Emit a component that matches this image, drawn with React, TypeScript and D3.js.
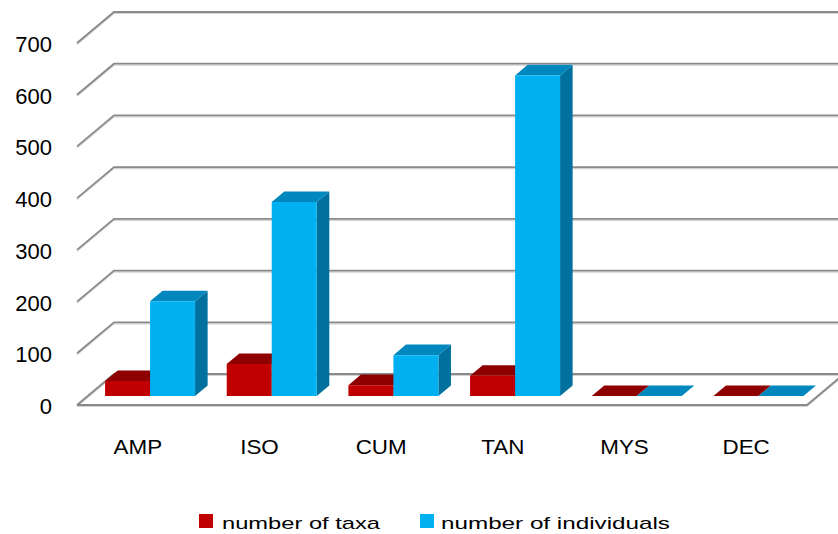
import React from "react";
import * as d3 from "d3";

// Categories and series values
const categories = ["AMP", "ISO", "CUM", "TAN", "MYS", "DEC"];
const taxa = [29, 62, 21, 39, 0, 0];
const individuals = [183, 375, 79, 620, 0, 0];
const yTicks = [0, 100, 200, 300, 400, 500, 600, 700];
const seriesNames = ["number of taxa", "number of individuals"];

const W = 838;
const H = 534;

// Oblique 3D frame: front plane of the floor and the depth vector to the back wall
const FRONT_LEFT = 77;
const FRONT_RIGHT = 807;
const FLOOR_Y = 405;
const DEPTH = { dx: 37, dy: -31 };
// Bars occupy this slice of the depth
const BAR_T0 = 0.29;
const BAR_T1 = 0.63;

const COLORS = {
  taxa: { front: "#C00000", top: "#8E0000", side: "#7A0000" },
  individuals: { front: "#00B0F0", top: "#0087BE", side: "#00719F" },
};

const FONT = "'Liberation Sans', Arial, sans-serif";

export default function App() {
  const x = d3.scaleBand<string>().domain(categories).range([FRONT_LEFT, FRONT_RIGHT]);
  const h = d3.scaleLinear().domain([0, 700]).range([0, 362]);
  const inner = d3.scaleBand<string>().domain(["taxa", "individuals"]).range([-45, 45]);

  // project a point given its front-plane x, depth fraction t and value v
  const P = (xf: number, t: number, v: number): [number, number] => [
    xf + DEPTH.dx * t,
    FLOOR_Y + DEPTH.dy * t - h(v),
  ];
  const poly = (pts: [number, number][]) => pts.map((p) => p.join(",")).join(" ");

  const gridColor = "#8A8A8A";
  const shadowColor = "#D2D2D2";

  const lines: React.ReactNode[] = [];
  yTicks.forEach((v) => {
    const a = P(FRONT_LEFT, 0, v);
    const b = P(FRONT_LEFT, 1, v);
    const c = P(FRONT_RIGHT, 1, v);
    lines.push(
      <g key={"g" + v}>
        <polyline points={poly([[a[0], a[1] + 1.5], [b[0], b[1] + 1.5], [c[0], c[1] + 1.5]])} fill="none" stroke={shadowColor} strokeWidth={1.2} />
        <polyline points={poly([a, b, c])} fill="none" stroke={gridColor} strokeWidth={1.8} />
      </g>
    );
  });
  // floor outline: front edge and right edge
  const f0 = P(FRONT_LEFT, 0, 0);
  const f1 = P(FRONT_RIGHT, 0, 0);
  const f2 = P(FRONT_RIGHT, 1, 0);
  lines.push(
    <g key="floor">
      <polyline points={poly([[f0[0], f0[1] + 1.5], [f1[0], f1[1] + 1.5], [f2[0], f2[1] + 1.5]])} fill="none" stroke={shadowColor} strokeWidth={1.2} />
      <polyline points={poly([f0, f1, f2])} fill="none" stroke={gridColor} strokeWidth={1.8} />
    </g>
  );

  const bars: React.ReactNode[] = [];
  categories.forEach((cat, i) => {
    const center = (x(cat) as number) + x.bandwidth() / 2 + 1.5;
    const series: [string, number][] = [
      ["taxa", taxa[i]],
      ["individuals", individuals[i]],
    ];
    series.forEach(([key, v]) => {
      const col = COLORS[key as "taxa" | "individuals"];
      const x0 = center + (inner(key) as number);
      const x1 = x0 + inner.bandwidth();
      const side = [P(x1, BAR_T0, 0), P(x1, BAR_T1, 0), P(x1, BAR_T1, v), P(x1, BAR_T0, v)];
      const top = [P(x0, BAR_T0, v), P(x1, BAR_T0, v), P(x1, BAR_T1, v), P(x0, BAR_T1, v)];
      const front = [P(x0, BAR_T0, 0), P(x1, BAR_T0, 0), P(x1, BAR_T0, v), P(x0, BAR_T0, v)];
      bars.push(
        <g key={cat + key}>
          {v > 0 && <polygon points={poly(side)} fill={col.side} />}
          <polygon points={poly(top)} fill={col.top} />
          {v > 0 && <polygon points={poly(front)} fill={col.front} />}
        </g>
      );
    });
  });

  return (
    <svg width={W} height={H} style={{ position: "absolute", left: 0, top: 0, background: "#fff" }}>
      <rect width={W} height={H} fill="#fff" />
      {lines}
      {bars}
      {yTicks.map((v) => (
        <text
          key={"y" + v}
          x={52}
          y={P(FRONT_LEFT, 0, v)[1] + 1.5}
          textAnchor="end"
          dominantBaseline="central"
          fontFamily={FONT}
          fontSize={22}
          fill="#000"
        >
          {v}
        </text>
      ))}
      {categories.map((cat) => (
        <text
          key={"x" + cat}
          transform={`translate(${(x(cat) as number) + x.bandwidth() / 2},454) scale(1.12,1)`}
          textAnchor="middle"
          fontFamily={FONT}
          fontSize={20}
          fill="#000"
        >
          {cat}
        </text>
      ))}
      <g>
        <rect x={199} y={514} width={14} height={14} fill={COLORS.taxa.front} />
        <text x={222} y={529} fontFamily={FONT} fontSize={17} textLength={158} lengthAdjust="spacingAndGlyphs" fill="#000">
          {seriesNames[0]}
        </text>
        <rect x={420} y={514} width={14} height={14} fill={COLORS.individuals.front} />
        <text x={441} y={529} fontFamily={FONT} fontSize={17} textLength={229} lengthAdjust="spacingAndGlyphs" fill="#000">
          {seriesNames[1]}
        </text>
      </g>
    </svg>
  );
}
